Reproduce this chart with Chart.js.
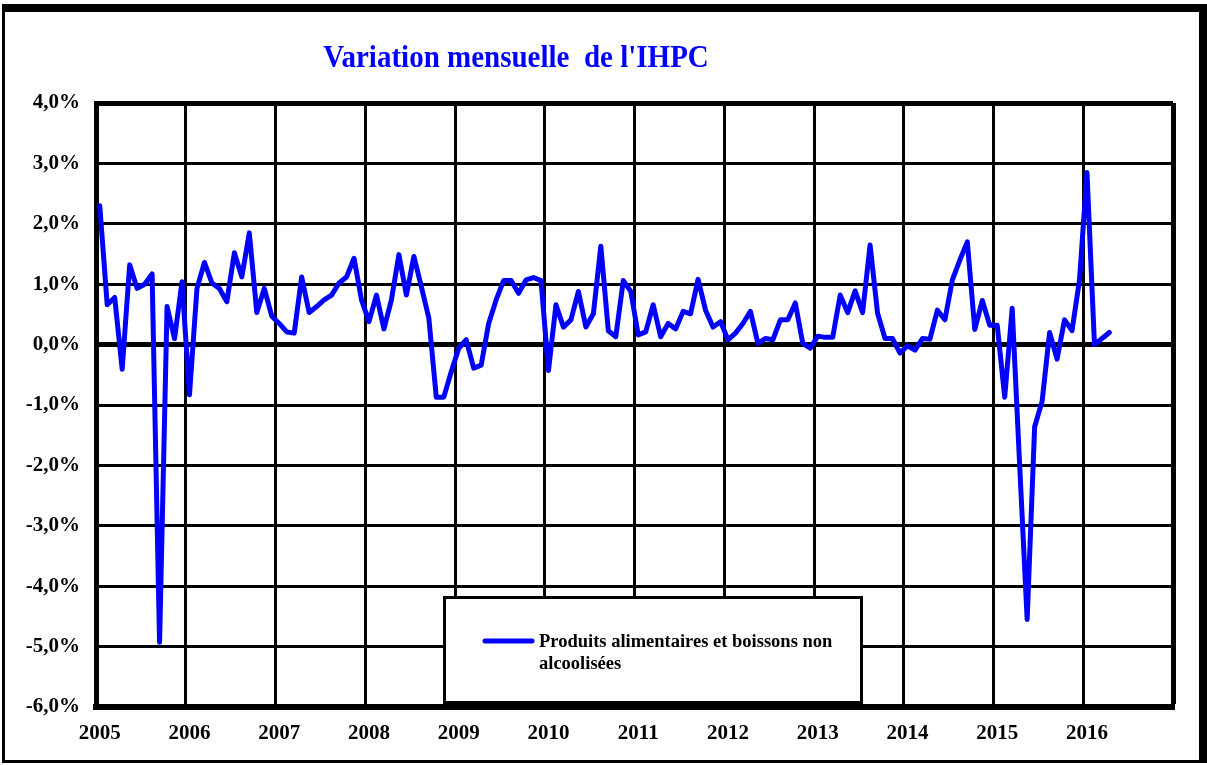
<!DOCTYPE html>
<html>
<head>
<meta charset="utf-8">
<title>Variation mensuelle de l'IHPC</title>
<script src="https://cdn.jsdelivr.net/npm/chart.js@4.4.1/dist/chart.umd.min.js"></script>
<style>
  html, body { margin: 0; padding: 0; background: #fff; }
  body { width: 1207px; height: 765px; position: relative; overflow: hidden; }
  #frame {
    position: absolute; left: 2px; top: 4px; width: 1205px; height: 759px;
    box-sizing: border-box; border-style: solid; border-color: #000;
    border-width: 8px 8px 3px 3px;
  }
  #wrap { position: absolute; left: 0; top: 0; width: 1207px; height: 765px; }
</style>
</head>
<body>
<div id="frame"></div>
<div id="wrap"><canvas id="ihpc"></canvas></div>
<script>
// ---- data ----
const chartTitle = "Variation mensuelle  de l'IHPC";
const seriesLabel = ["Produits alimentaires et boissons non", "alcoolisées"];
const years = [2005, 2006, 2007, 2008, 2009, 2010, 2011, 2012, 2013, 2014, 2015, 2016];

// monthly change (%) from jan 2005 to apr 2016
const foodVariation = [
  2.30, 0.66, 0.78, -0.41, 1.32, 0.93, 1.00, 1.17, -4.93, 0.63, 0.10, 1.04,   // 2005
  -0.83, 0.93, 1.36, 1.02, 0.93, 0.71, 1.52, 1.12, 1.85, 0.53, 0.93, 0.47,    // 2006
  0.35, 0.21, 0.19, 1.12, 0.53, 0.63, 0.74, 0.82, 1.02, 1.12, 1.43, 0.74,     // 2007
  0.38, 0.82, 0.26, 0.74, 1.49, 0.82, 1.46, 0.96, 0.44, -0.87, -0.87, -0.45,  // 2008
  -0.06, 0.08, -0.39, -0.34, 0.35, 0.74, 1.06, 1.06, 0.85, 1.07, 1.11, 1.06,  // 2009
  -0.43, 0.66, 0.29, 0.41, 0.88, 0.29, 0.51, 1.63, 0.23, 0.13, 1.06, 0.88,    // 2010
  0.16, 0.21, 0.66, 0.13, 0.35, 0.26, 0.55, 0.51, 1.08, 0.57, 0.29, 0.38,     // 2011
  0.08, 0.19, 0.35, 0.55, 0.02, 0.10, 0.08, 0.41, 0.41, 0.69, 0.02, -0.06,    // 2012
  0.14, 0.12, 0.12, 0.82, 0.53, 0.89, 0.53, 1.65, 0.52, 0.10, 0.10, -0.14,    // 2013
  -0.02, -0.09, 0.10, 0.09, 0.57, 0.41, 1.07, 1.40, 1.70, 0.25, 0.73, 0.32,   // 2014
  0.32, -0.87, 0.60, -2.00, -4.55, -1.36, -0.94, 0.20, -0.24, 0.41, 0.23, 1.07, // 2015
  2.85, 0.00, 0.10, 0.20                                                      // 2016
];

const yTicksMin = -6;
const yTicksMax = 4;

// one category per month, 2005-01 .. 2016-12
const months = [];
years.forEach(y => {
  for (let m = 1; m <= 12; m++) months.push(y + '-' + String(m).padStart(2, '0'));
});

const serif = '"Liberation Serif", "Times New Roman", serif';

// title + boxed legend drawn on top of the plot
const decor = {
  id: 'decor',
  afterDraw(chart) {
    const ctx = chart.ctx;
    ctx.save();
    // title, slightly stretched vertically
    ctx.save();
    ctx.translate(516, 67);
    ctx.scale(1, 1.12);
    ctx.fillStyle = '#0000ff';
    ctx.font = 'bold 29px ' + serif;
    ctx.textAlign = 'center';
    ctx.textBaseline = 'alphabetic';
    ctx.fillText(chartTitle, 0, 0);
    ctx.restore();

    // legend box
    ctx.fillStyle = '#fff';
    ctx.fillRect(443, 596, 420, 108);
    ctx.strokeStyle = '#000';
    ctx.lineWidth = 3;
    ctx.strokeRect(444.5, 597.5, 417, 105);

    const ds = chart.data.datasets[0];
    ctx.strokeStyle = ds.borderColor;
    ctx.lineWidth = ds.borderWidth;
    ctx.lineCap = 'round';
    ctx.beginPath();
    ctx.moveTo(485, 641);
    ctx.lineTo(532, 641);
    ctx.stroke();

    ctx.fillStyle = '#000';
    ctx.font = 'bold 18.5px ' + serif;
    ctx.textAlign = 'left';
    ctx.textBaseline = 'middle';
    ds.label.forEach((line, i) => ctx.fillText(line, 539, 642 + i * 22));
    ctx.restore();
  }
};

new Chart(document.getElementById('ihpc'), {
  type: 'line',
  data: {
    labels: months,
    datasets: [{
      label: seriesLabel,
      data: foodVariation,
      borderColor: '#0000ff',
      borderWidth: 5,
      borderJoinStyle: 'round',
      borderCapStyle: 'round',
      pointRadius: 0,
      tension: 0,
      fill: false
    }]
  },
  options: {
    responsive: true,
    maintainAspectRatio: false,
    animation: false,
    layout: { padding: { top: 103, right: 34, bottom: 0, left: 0 } },
    plugins: {
      legend: { display: false },
      title: { display: false },
      tooltip: { enabled: false }
    },
    scales: {
      x: {
        type: 'category',
        offset: true,
        afterFit: s => { s.height = 58; },
        grid: {
          offset: true,
          drawTicks: false,
          color: c => (c.index === undefined || c.index % 12 === 0) ? '#000' : 'rgba(0,0,0,0)',
          lineWidth: c => c.index === undefined ? 5 : 3
        },
        border: { color: '#000', width: 6 },
        ticks: {
          autoSkip: false,
          maxRotation: 0,
          minRotation: 0,
          padding: 14,
          color: '#000',
          font: { family: serif, size: 21, weight: 'bold' },
          callback: (v, i) => i % 12 === 0 ? months[i].slice(0, 4) : ''
        }
      },
      y: {
        min: yTicksMin,
        max: yTicksMax,
        afterFit: s => { s.width = 96; },
        grid: {
          drawTicks: false,
          color: '#000',
          lineWidth: c => (c.tick && (c.tick.value === 0 || c.tick.value === yTicksMax)) ? 5 : 3
        },
        border: { color: '#000', width: 5 },
        ticks: {
          stepSize: 1,
          padding: 16,
          color: '#000',
          font: { family: serif, size: 21, weight: 'bold' },
          callback: v => v.toFixed(1).replace('.', ',') + '%'
        }
      }
    }
  },
  plugins: [decor]
});
</script>
</body>
</html>
